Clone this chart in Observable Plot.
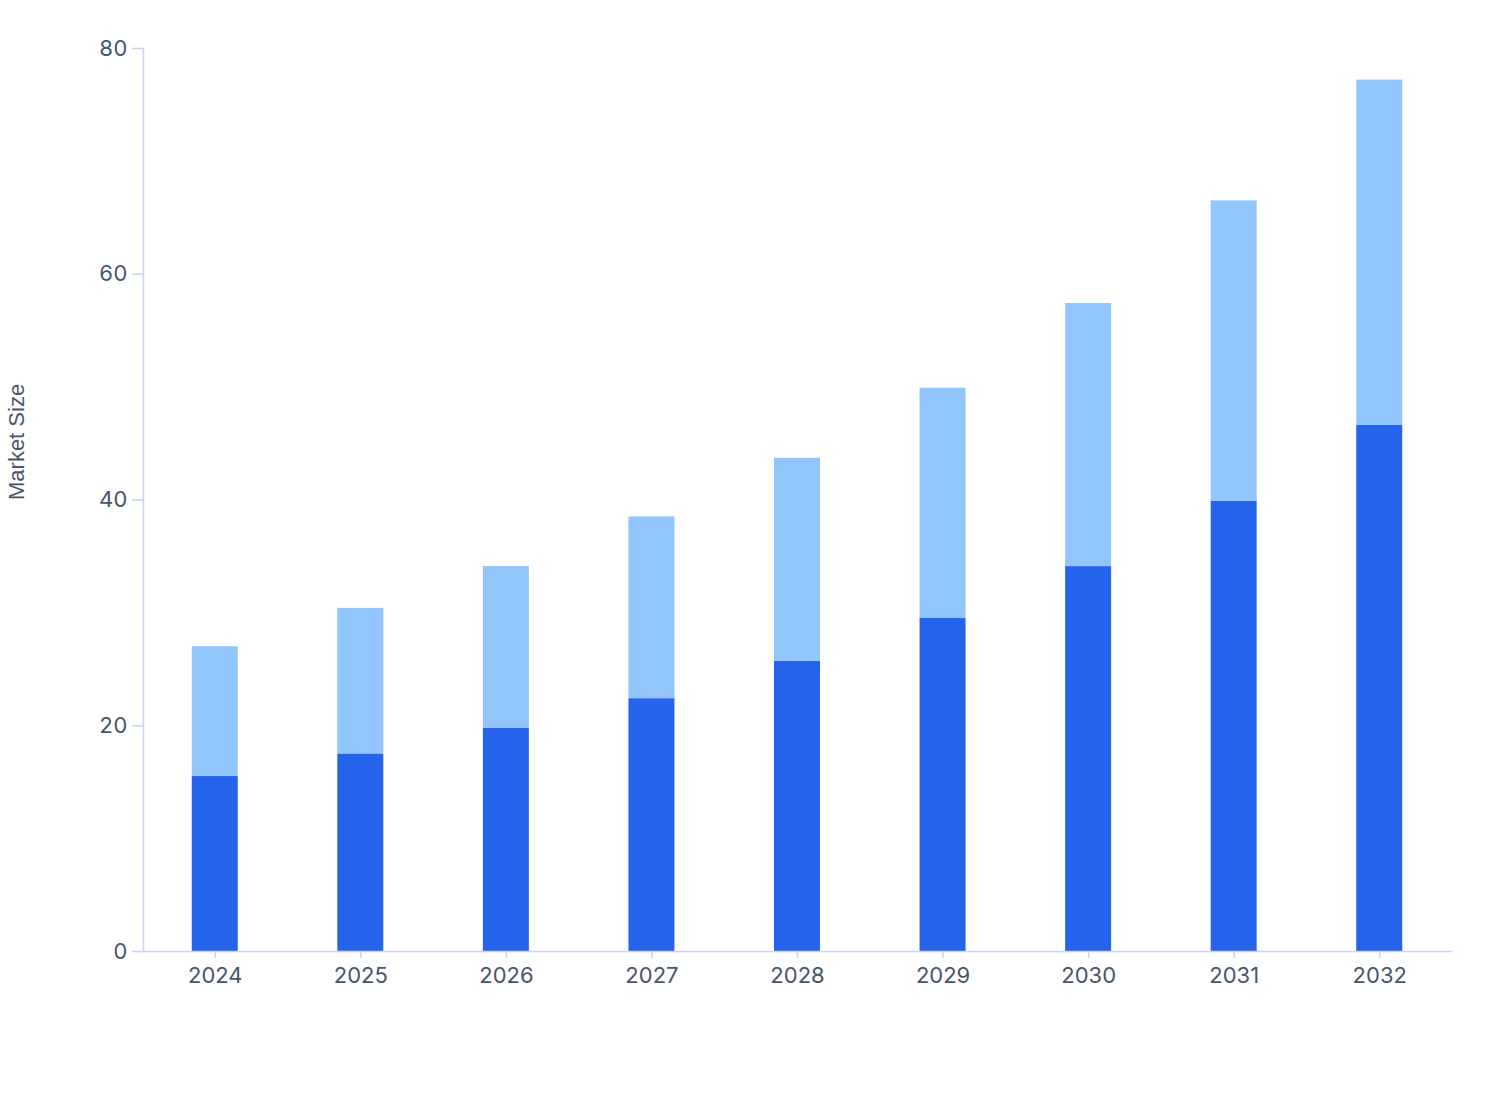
<!DOCTYPE html>
<html>
<head>
<meta charset="utf-8">
<script src="https://cdn.jsdelivr.net/npm/d3@7"></script>
<script src="https://cdn.jsdelivr.net/npm/@observablehq/plot@0.6"></script>
<style>
  html, body { margin: 0; padding: 0; background: #fff; }
  #chart svg { display: block; }
</style>
</head>
<body>
<div id="chart"></div>
<script>
const years = ["2024","2025","2026","2027","2028","2029","2030","2031","2032"];
const baseSegment = [15.5, 17.5, 19.8, 22.4, 25.7, 29.5, 34.1, 39.9, 46.6];
const addedSegment = [11.5, 12.9, 14.3, 16.1, 18.0, 20.4, 23.3, 26.6, 30.6];
const seriesNames = ["Base", "Additional"];
const seriesColors = ["#2563eb", "#93c5fd"];
const yTicks = [0, 20, 40, 60, 80];
const yLabel = "Market Size";

const rows = [];
years.forEach((yr, i) => {
  rows.push({year: yr, series: seriesNames[0], value: baseSegment[i]});
  rows.push({year: yr, series: seriesNames[1], value: addedSegment[i]});
});

const tickColor = "#475569";
const lineColor = "#c7d2fe";

const chart = Plot.plot({
  width: 1508,
  height: 1120,
  marginLeft: 143,
  marginRight: 57,
  marginTop: 48,
  marginBottom: 169,
  style: {fontFamily: "Inter, 'Open Sans', sans-serif", fontSize: "22px", color: tickColor, background: "#fff"},
  x: {domain: years, paddingInner: 0.684, paddingOuter: 0.335, round: false, label: null},
  y: {domain: [0, 80], label: null},
  color: {domain: seriesNames, range: seriesColors},
  marks: [
    Plot.barY(rows, Plot.stackY({x: "year", y: "value", fill: "series", order: seriesNames})),
    Plot.frame({anchor: "left", stroke: lineColor, strokeOpacity: 1, strokeWidth: 1.5}),
    Plot.frame({anchor: "bottom", stroke: lineColor, strokeOpacity: 1, strokeWidth: 1.5}),
    Plot.axisY({ticks: yTicks, tickSize: 11, tickPadding: 5, stroke: lineColor, strokeOpacity: 1, strokeWidth: 1.5, fill: tickColor, label: null, fontSize: 22}),
    Plot.axisX({tickSize: 7, tickPadding: 9, stroke: lineColor, strokeOpacity: 1, strokeWidth: 1.5, fill: tickColor, label: null, fontSize: 22}),
    Plot.text([yLabel], {text: d => d, frameAnchor: "left", rotate: -90, textAnchor: "start", dx: -127, fill: tickColor, fontSize: 22, fontFamily: "'Liberation Sans', Arial, sans-serif"})
  ]
});
document.getElementById("chart").appendChild(chart);
</script>
</body>
</html>
